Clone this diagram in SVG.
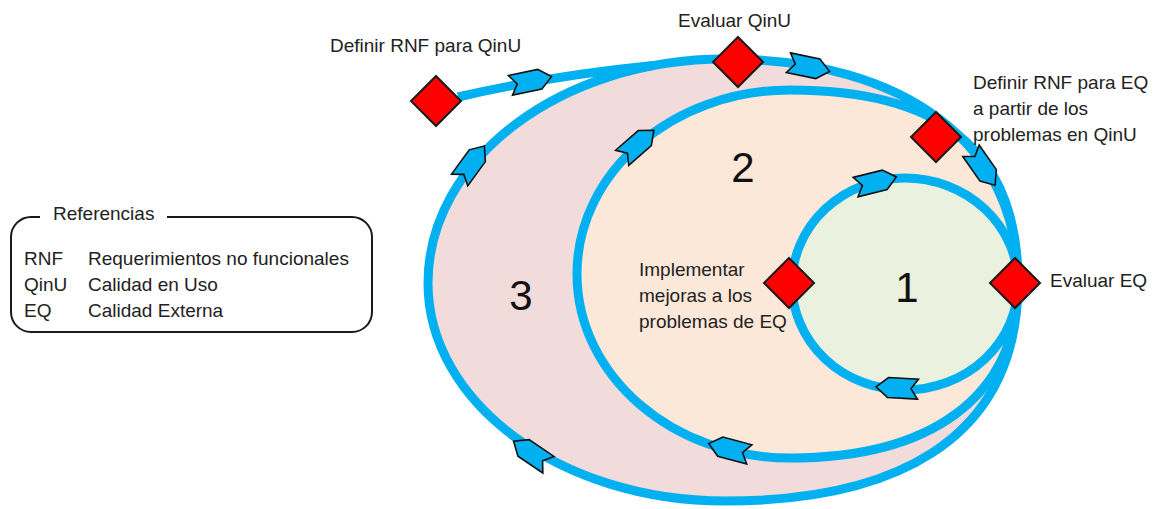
<svg xmlns="http://www.w3.org/2000/svg" xmlns:xlink="http://www.w3.org/1999/xlink" width="1155" height="509" viewBox="0 0 1155 509">
  <style>
    .lbl { font-family: "Liberation Sans", Arial, sans-serif; font-size: 19px; fill: #222; }
    .num { font-family: "Liberation Sans", Arial, sans-serif; font-size: 42px; fill: #111; text-anchor: middle; }
    .loop { fill: none; stroke: #00B0F0; stroke-width: 9; }
  </style>
  <defs>
    <path id="chev" d="M-21,-10 L9,-10 L21,0 L9,10 L-21,10 L-14,0 Z" fill="#00B0F0" stroke="#111" stroke-width="1.6" stroke-linejoin="miter"/>
    <path id="dia" d="M0,-25 L25,0 L0,25 L-25,0 Z" fill="#FF0000" stroke="#1a1a1a" stroke-width="2"/>
  </defs>
  <rect width="1155" height="509" fill="#ffffff"/>

  <!-- regions -->
  <g id="region-3">
    <path d="M428,283 C428,159.3 561,59 725,59 C906.7,59 1018,145 1018,282 C1018,446 886,501 725,501 C561,501 428,403.4 428,283 Z" fill="#F1DCDB"/>
  </g>
  <g id="region-2">
    <path d="M577,274 C577,172.4 672.4,90 790,90 C930,90 1018,142 1018,282 C1018,400 927,458 790,458 C672.4,458 577,375.6 577,274 Z" fill="#FCE8D9"/>
  </g>
  <g id="region-1">
    <ellipse cx="905" cy="284" rx="113" ry="106" fill="#EAF1DE"/>
  </g>

  <!-- connectors -->
  <g id="connectors">
    <path class="loop" d="M428,283 C428,159.3 561,59 725,59 C906.7,59 1018,145 1018,282 C1018,446 886,501 725,501 C561,501 428,403.4 428,283 Z"/>
    <path class="loop" d="M577,274 C577,172.4 672.4,90 790,90 C930,90 1018,142 1018,282 C1018,400 927,458 790,458 C672.4,458 577,375.6 577,274 Z"/>
    <ellipse class="loop" cx="905" cy="284" rx="113" ry="106"/>
    <path class="loop" d="M458,97 Q548,76 653,65.5"/>
    <use xlink:href="#chev" transform="translate(531,81) rotate(-12)"/>
    <use xlink:href="#chev" transform="translate(809,67) rotate(12)"/>
    <use xlink:href="#chev" transform="translate(983,168) rotate(55)"/>
    <use xlink:href="#chev" transform="translate(876,182) rotate(-14)"/>
    <use xlink:href="#chev" transform="translate(897,388) rotate(183)"/>
    <use xlink:href="#chev" transform="translate(729,449) rotate(195)"/>
    <use xlink:href="#chev" transform="translate(531,453) rotate(214)"/>
    <use xlink:href="#chev" transform="translate(472,163) rotate(-54)"/>
    <use xlink:href="#chev" transform="translate(638,144) rotate(-41)"/>
  </g>

  <!-- numbers -->
  <g id="label-1"><text class="num" x="907" y="302">1</text></g>
  <g id="label-2"><text class="num" x="743" y="182">2</text></g>
  <g id="label-3"><text class="num" x="521" y="310">3</text></g>

  <!-- nodes -->
  <g id="node-definir-rnf-qinu">
    <use xlink:href="#dia" x="436" y="101"/>
    <text class="lbl" x="330" y="52">Definir RNF para QinU</text>
  </g>
  <g id="node-evaluar-qinu">
    <use xlink:href="#dia" x="738" y="62"/>
    <text class="lbl" x="678" y="27">Evaluar QinU</text>
  </g>
  <g id="node-definir-rnf-eq">
    <use xlink:href="#dia" x="936" y="137"/>
    <text class="lbl" x="973" y="89">Definir RNF para EQ</text>
    <text class="lbl" x="973" y="115">a partir de los</text>
    <text class="lbl" x="973" y="141">problemas en QinU</text>
  </g>
  <g id="node-implementar">
    <use xlink:href="#dia" x="789" y="283"/>
    <text class="lbl" x="639" y="276">Implementar</text>
    <text class="lbl" x="639" y="302">mejoras a los</text>
    <text class="lbl" x="639" y="328">problemas de EQ</text>
  </g>
  <g id="node-evaluar-eq">
    <use xlink:href="#dia" x="1015" y="283"/>
    <text class="lbl" x="1050" y="287">Evaluar EQ</text>
  </g>

  <!-- legend -->
  <g id="legend">
    <rect x="11" y="217" width="361" height="115" rx="20" ry="20" fill="#ffffff" stroke="#1a1a1a" stroke-width="2"/>
    <rect x="40" y="210" width="127" height="14" fill="#ffffff"/>
    <text class="lbl" x="53" y="220">Referencias</text>
    <text class="lbl" x="24" y="265">RNF</text>
    <text class="lbl" x="88" y="265">Requerimientos no funcionales</text>
    <text class="lbl" x="24" y="291">QinU</text>
    <text class="lbl" x="88" y="291">Calidad en Uso</text>
    <text class="lbl" x="24" y="317">EQ</text>
    <text class="lbl" x="88" y="317">Calidad Externa</text>
  </g>
</svg>
